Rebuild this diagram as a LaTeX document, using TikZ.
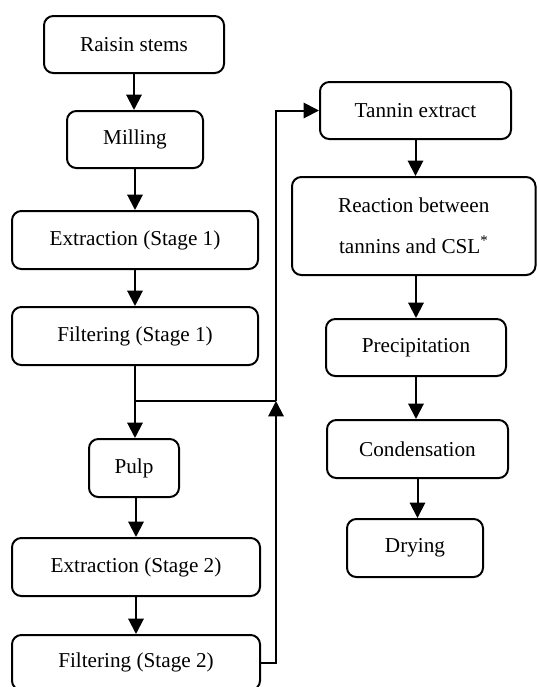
\documentclass[tikz,border=0pt]{standalone}
\usepackage{fontspec}
\setmainfont{Liberation Serif}
\usetikzlibrary{arrows.meta,calc}
\newcommand{\pbox}[6]{\node[stepbox, minimum width={(#4-#2)*0.75pt}, minimum height={(#5-#3)*0.75pt}] (#1) at ({(#2+#4)/2},{(#3+#5)/2}) {#6};}
\tikzset{
  stepbox/.style={draw=black, line width=1.5pt, rounded corners=7pt, inner sep=0pt, align=center,
    font=\fontsize{15.9}{31}\selectfont},
  arr/.style={line width=1.5pt, -{Triangle[length=11.5pt,width=11.5pt]}},
  ln/.style={line width=1.5pt}
}
\begin{document}
\begin{tikzpicture}[x=0.75pt,y=-0.75pt]
\useasboundingbox (0,0) rectangle (537,687);
\clip (0,0) rectangle (537,687);
\pbox{rs}{44}{16}{224}{73}{Raisin stems}
\pbox{mil}{67}{111}{203}{168}{Milling}
\pbox{exa}{12}{211}{258}{269}{Extraction (Stage 1)}
\pbox{fia}{12}{307}{258}{365}{Filtering (Stage 1)}
\pbox{pulp}{89}{439}{179}{497}{Pulp}
\pbox{exb}{12}{538}{260}{596}{Extraction (Stage 2)}
\pbox{fib}{12}{635}{260}{690}{Filtering (Stage 2)}
\pbox{te}{320}{82}{511}{139}{Tannin extract}
\pbox{rx}{292}{177}{535.5}{275}{Reaction between\\tannins and CSL\textsuperscript{*}}
\pbox{pr}{326}{319}{506}{376}{Precipitation}
\pbox{co}{327}{420}{508}{478}{Condensation}
\pbox{dr}{347}{519}{483}{577}{Drying}
\coordinate (j) at (276,401);
\draw[arr] (rs.south) -- (rs.south |- mil.north);
\draw[arr] (mil.south) -- (mil.south |- exa.north);
\draw[arr] (exa.south) -- (fia.north);
\draw[arr] (fia.south) -- (fia.south |- pulp.north);
\draw[arr] (exb.north |- pulp.south) -- (exb.north);
\draw[arr] (exb.south) -- (fib.north);
\draw[ln] (fia.south |- j) -- (j);
\draw[arr] (fib.east) -| (j);
\draw[arr] (j) |- (te.west);
\draw[arr] (te.south) -- (te.south |- rx.north);
\draw[arr] (pr.north |- rx.south) -- (pr.north);
\draw[arr] (pr.south) -- (pr.south |- co.north);
\draw[arr] (co.south) -- (co.south |- dr.north);
\end{tikzpicture}
\end{document}
